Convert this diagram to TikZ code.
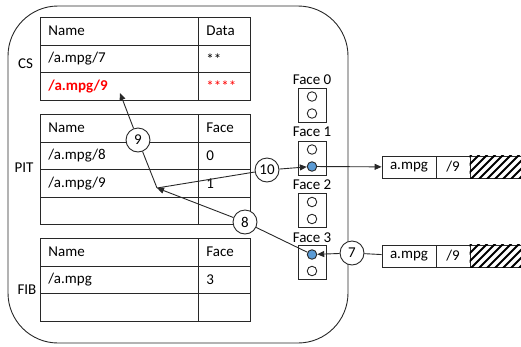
\documentclass[tikz,border=0pt]{standalone}
\usepackage{fontspec}
\setmainfont{Carlito}
\usetikzlibrary{arrows.meta}
\definecolor{redtxt}{RGB}{255,0,0}
\definecolor{faceblue}{RGB}{91,155,213}
\definecolor{linegray}{RGB}{40,40,40}
\begin{document}
\begin{tikzpicture}[x=1pt,y=-1pt,
  font=\fontsize{15}{18}\selectfont,
  line width=0.9pt,
  namecell/.style={draw=linegray, anchor=north west, text width=142pt, inner xsep=8pt, inner ysep=0pt, minimum height=27.5pt, align=left},
  datacell/.style={namecell, text width=36pt},
  facebox/.style={draw=linegray, minimum width=28pt, minimum height=34pt, inner sep=0pt},
  port/.style={circle, draw=linegray, minimum size=9.5pt, inner sep=0pt},
  active/.style={port, fill=faceblue},
  pkcell/.style={draw=linegray, minimum height=22pt, inner sep=0pt},
  num/.style={circle, draw=linegray, fill=white, minimum size=24pt, inner sep=0pt},
  arr/.style={-{Triangle[length=7pt,width=6pt]}},
  lab/.style={inner sep=0pt}
]
\useasboundingbox (0,0) rectangle (521,346);
% router
\node[draw=linegray, rounded corners=50pt, minimum width=340pt, minimum height=337pt, anchor=north west, inner sep=0pt, outer sep=0pt] (router) at (8,6) {};
% labels
\node[lab] (cslab) at (25.5,64) {CS};
\node[lab] (pitlab) at (24,168) {PIT};
\node[lab] (fiblab) at (27,290) {FIB};
% CS table
\node[namecell] (cs-n1) at (40,17) {Name};
\node[datacell] (cs-d1) at (198,17) {Data};
\node[namecell] (cs-n2) at (40,44.5) {/a.mpg/7};
\node[datacell] (cs-d2) at (198,44.5) {**};
\node[namecell, text=redtxt, font=\fontsize{15}{18}\selectfont\bfseries] (cs-n3) at (40,72) {/a.mpg/9};
\node[datacell, text=redtxt] (cs-d3) at (198,72) {****};
% PIT table
\node[namecell] (pit-n1) at (40,114) {Name};
\node[datacell] (pit-d1) at (198,114) {Face};
\node[namecell] (pit-n2) at (40,141.5) {/a.mpg/8};
\node[datacell] (pit-d2) at (198,141.5) {0};
\node[namecell] (pit-n3) at (40,169) {/a.mpg/9};
\node[datacell] (pit-d3) at (198,169) {1};
\node[namecell] (pit-n4) at (40,196.5) {};
\node[datacell] (pit-d4) at (198,196.5) {};
% FIB table
\node[namecell] (fib-n1) at (40,238) {Name};
\node[datacell] (fib-d1) at (198,238) {Face};
\node[namecell] (fib-n2) at (40,265.5) {/a.mpg};
\node[datacell] (fib-d2) at (198,265.5) {3};
\node[namecell] (fib-n3) at (40,293) {};
\node[datacell] (fib-d3) at (198,293) {};
% faces
\node[lab] (f0l) at (312,80) {Face 0};
\node[facebox] (f0) at (312,105) {};
\node[port] (f0a) at (312,96.5) {};
\node[port] (f0b) at (312,113.5) {};
\node[lab] (f1l) at (312,132) {Face 1};
\node[facebox] (f1) at (312,158) {};
\node[port] (f1a) at (312,149.5) {};
\node[active] (f1b) at (312,166.5) {};
\node[lab] (f2l) at (312,185) {Face 2};
\node[facebox] (f2) at (312,210.5) {};
\node[port] (f2a) at (312,202) {};
\node[port] (f2b) at (312,219) {};
\node[lab] (f3l) at (312,238) {Face 3};
\node[facebox] (f3) at (312,262.5) {};
\node[active] (f3a) at (312,254.5) {};
\node[port] (f3b) at (312,271) {};
% packets
\node[pkcell, minimum width=54pt] (p1a) at (409,167) {a.mpg};
\node[pkcell, minimum width=34pt] (p1n) at (453,167) {/9};
\node[pkcell, minimum width=54pt] (p1h) at (497,167) {};
\node[pkcell, minimum width=54pt] (p2a) at (409,256) {a.mpg};
\node[pkcell, minimum width=34pt] (p2n) at (453,256) {/9};
\node[pkcell, minimum width=54pt] (p2h) at (497,256) {};
\begin{scope}
  \clip (p1h.south west) rectangle (p1h.north east);
  \foreach \x in {446,454,...,534} \draw[line width=2pt] (\x,180) -- ++(26,-26);
\end{scope}
\begin{scope}
  \clip (p2h.south west) rectangle (p2h.north east);
  \foreach \x in {446,454,...,534} \draw[line width=2pt] (\x,269) -- ++(26,-26);
\end{scope}
% number circles
\node[num] (c9) at (138,140) {9};
\node[num] (c10) at (267,170) {10};
\node[num] (c8) at (245,222) {8};
\node[num] (c7) at (352,253) {7};
% junction points
\coordinate (P) at (157,188);
\coordinate (t9) at (120,93);
% connectors
\draw[linegray] (P) -- (c9);
\draw[linegray, arr] (c9) -- (t9);
\draw[linegray] (P) -- (c10);
\draw[linegray, arr] (c10) -- (f1b);
\draw[linegray, arr] (f1b) -- (p1a);
\draw[linegray] (f3a) -- (c8);
\draw[linegray, arr] (c8) -- (P);
\draw[linegray] (p2a) -- (c7);
\draw[linegray, arr] (c7) -- (f3a);
\end{tikzpicture}
\end{document}
